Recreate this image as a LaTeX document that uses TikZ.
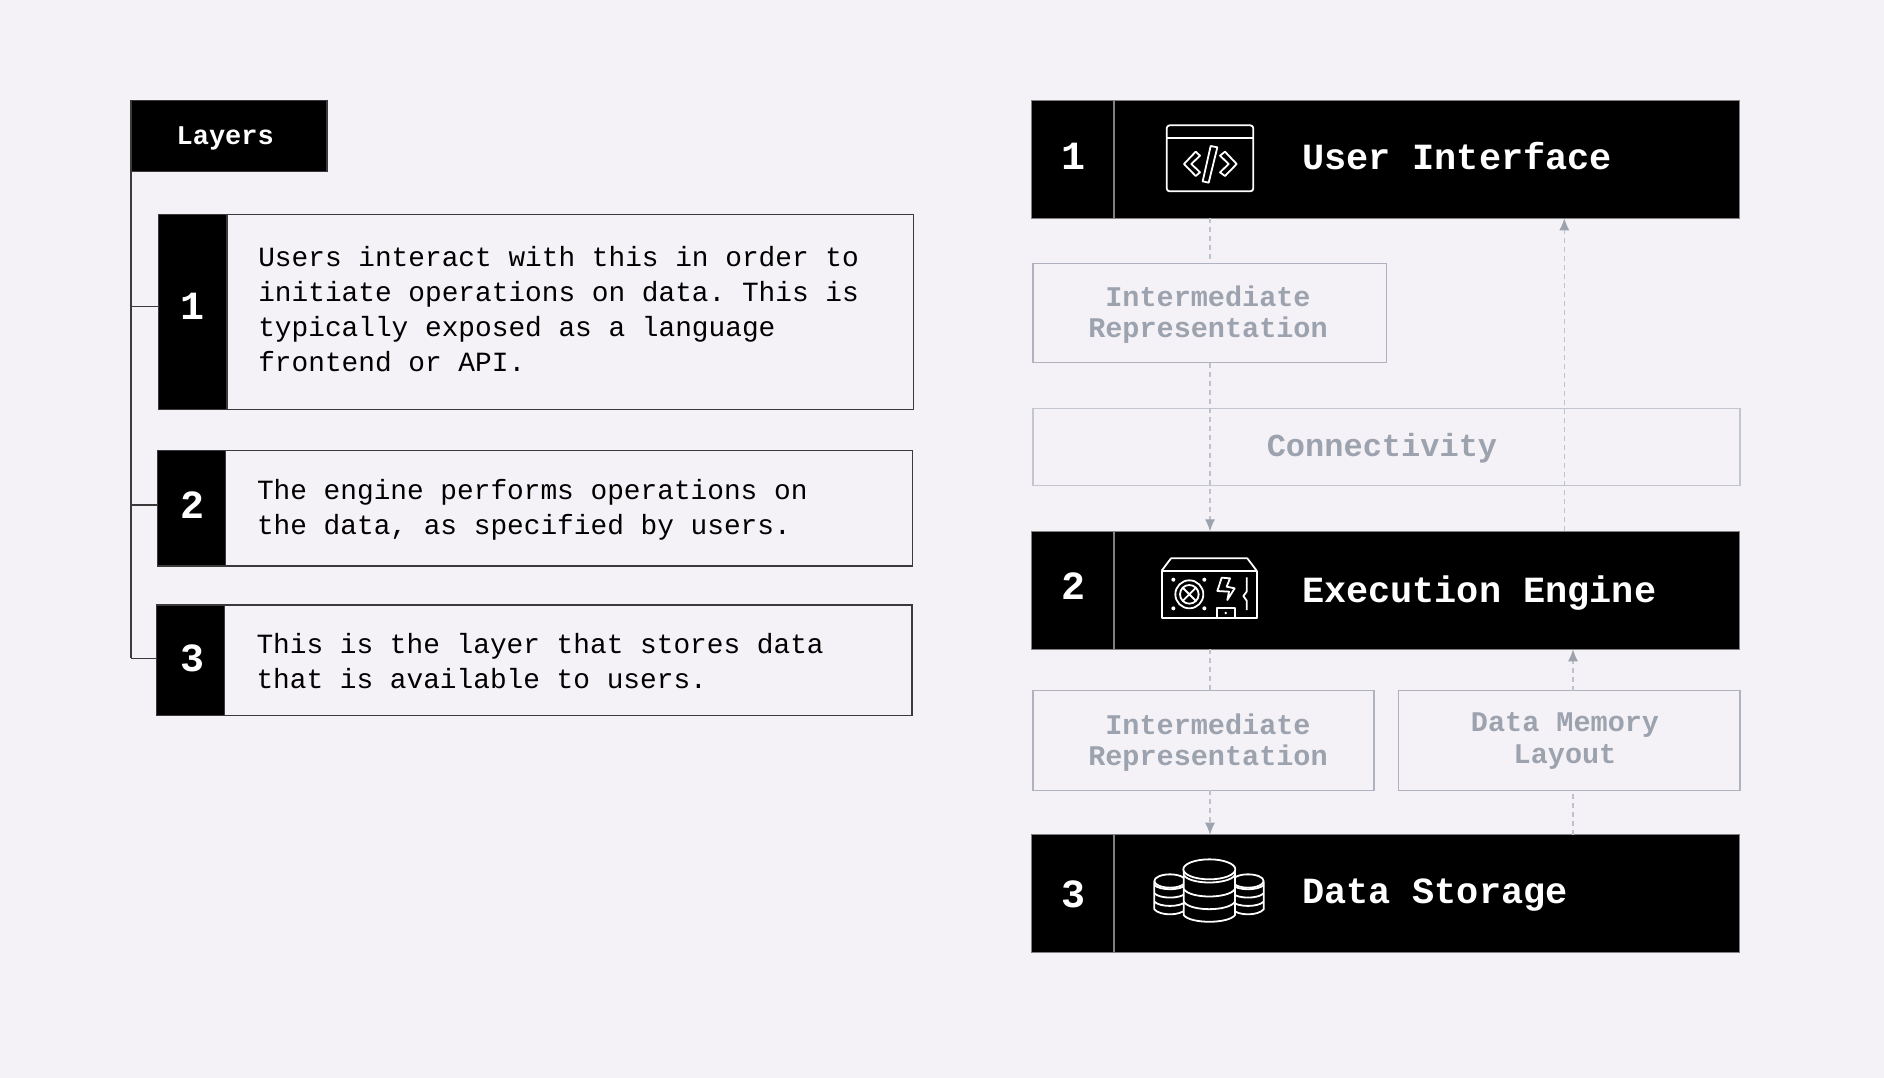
\documentclass[tikz,border=0pt]{standalone}
\usepackage{fontspec}
\setmonofont{Liberation Mono}
\usepackage{tikz}
\usetikzlibrary{arrows.meta}
\definecolor{pagebg}{HTML}{F4F2F6}
\definecolor{fadeline}{HTML}{AEB3BF}
\definecolor{fadetext}{HTML}{9CA3AF}
\definecolor{wirecol}{HTML}{3A3A3A}

\begin{document}
\begin{tikzpicture}
  [x=1pt,y=-1pt,
   every node/.style={inner sep=0pt,outer sep=0pt}]
 \tikzset{panel/.style={draw=wirecol,line width=1.1pt,anchor=north west},
   blackcell/.style={draw=wirecol,line width=1.1pt,fill=black,anchor=north west},
   headbar/.style={draw=gray,line width=1.1pt,fill=black,anchor=north west,minimum width=708pt,minimum height=118pt},
   fadebox/.style={draw=fadeline,line width=1.1pt,anchor=north west},
   numtext/.style={text=white,font=\ttfamily\bfseries\fontsize{40}{40}\selectfont},
   bodytext/.style={anchor=west,align=left,font=\ttfamily\fontsize{27.8}{34.8}\selectfont},
   titletext/.style={text=white,anchor=base west,font=\ttfamily\bfseries\fontsize{36.9}{36.9}\selectfont},
   fadetxt/.style={text=fadetext,align=center,font=\ttfamily\bfseries\fontsize{28.5}{31.2}\selectfont},
   wire/.style={draw=wirecol,line width=1.1pt},
   flow/.style={draw=fadeline!80,line width=1.1pt,dash pattern=on 5pt off 4pt},
   flowtip/.style={flow,-{Latex[length=12pt,width=10pt,color=fadetext]}},
   iconline/.style={draw=white,line width=1.8pt,line join=round}}
 \fill[pagebg] (0,0) rectangle (1884,1078);
 \useasboundingbox (0,0) rectangle (1884,1078);

 % left column
 \node[blackcell,minimum width=196pt,minimum height=70.5pt] (layers) at (131,100.7) {};
 \node[text=white,anchor=base west,font=\ttfamily\bfseries\fontsize{27}{27}\selectfont] (layerstxt) at (176.6,144.3) {Layers};
 \node[panel,minimum width=755pt,minimum height=195pt] (box1) at (158.7,214.7) {};
 \node[panel,minimum width=755pt,minimum height=115.5pt] (box2) at (157.4,450.5) {};
 \node[panel,minimum width=755.5pt,minimum height=110.5pt] (box3) at (156.5,605) {};
 \node[blackcell,minimum width=68.3pt,minimum height=195pt] (cell1) at (158.7,214.7) {};
 \node[blackcell,minimum width=68.3pt,minimum height=115.5pt] (cell2) at (157.4,450.5) {};
 \node[blackcell,minimum width=68.3pt,minimum height=110.5pt] (cell3) at (156.5,605) {};
 \node[numtext] (n1) at (192,306.5) {1};
 \node[numtext] (n2) at (192,505.5) {2};
 \node[numtext] (n3) at (192,658) {3};
 \node[bodytext] (txt1) at (258.3,309.2) {Users interact with this in order to\\initiate operations on data. This is\\typically exposed as a language\\frontend or API.};
 \node[bodytext] (txt2) at (257,509.8) {The engine performs operations on\\the data, as specified by users.};
 \node[bodytext] (txt3) at (256.5,661.2) {This is the layer that stores data\\that is available to users.};
 \coordinate (stub1) at (131,306.4);
 \coordinate (stub2) at (131,505);
 \coordinate (stub3) at (131,658.4);
 \draw[wire] (layers.south west) -- (stub3);
 \foreach \from/\to in {stub1/cell1,stub2/cell2,stub3/cell3}
    \draw[wire] (\from) -- (\from -| \to.west);

 % right column
 \node[headbar] (bar1) at (1031.7,100.3) {};
 \node[headbar] (bar2) at (1031.7,531.3) {};
 \node[headbar] (bar3) at (1031.7,834.7) {};
 \foreach \b in {bar1,bar2,bar3}
    \draw[draw=gray,line width=1.1pt] (\b.north west) ++(82.3,0) -- ++(0,118);
 \node[numtext] (m1) at (1073,156.5) {1};
 \node[numtext] (m2) at (1073,586.5) {2};
 \node[numtext] (m3) at (1073,894.8) {3};
 \node[titletext] (title1) at (1302,169.8) {User Interface};
 \node[titletext] (title2) at (1302,602) {Execution Engine};
 \node[titletext] (title3) at (1302,903.3) {Data Storage};

 \node[fadebox,minimum width=353.7pt,minimum height=99.6pt] (ir1) at (1033,263.3) {};
 \node[fadebox,draw=fadeline!75,minimum width=707pt,minimum height=77pt] (conn) at (1033,408.5) {};
 \node[fadebox,minimum width=341pt,minimum height=99.5pt] (ir2) at (1033,690.8) {};
 \node[fadebox,minimum width=341.7pt,minimum height=99.5pt] (dml) at (1398.3,690.8) {};
 \node[fadetxt] (irtxt1) at (1208,314.8) {Intermediate\\Representation};
 \node[fadetxt,font=\ttfamily\bfseries\fontsize{32}{32}\selectfont] (conntxt) at (1382,448.4) {Connectivity};
 \node[fadetxt] (irtxt2) at (1208,742.4) {Intermediate\\Representation};
 \node[fadetxt] (dmltxt) at (1565,740.9) {Data Memory\\Layout};

 \coordinate (laneA) at (1210,0);
 \coordinate (laneB) at (1564.3,0);
 \coordinate (laneC) at (1573,0);
 \draw[flow] (bar1.south -| laneA) -- (ir1.north -| laneA);
 \draw[flowtip] (ir1.south -| laneA) -- (bar2.north -| laneA);
 \draw[flowtip] (bar2.north -| laneB) -- (bar1.south -| laneB);
 \draw[flow] (bar2.south -| laneA) -- (ir2.north -| laneA);
 \draw[flowtip] (ir2.south -| laneA) -- (bar3.north -| laneA);
 \draw[flow] (bar3.north -| laneC) -- (dml.south -| laneC);
 \draw[flowtip] (dml.north -| laneC) -- (bar2.south -| laneC);

 % window icon
 \begin{scope}[shift={(1030,90)},scale=1/3]
  \draw[iconline,rounded corners=3pt] (410,106) rectangle (670,304);
  \draw[iconline] (410,143) -- (670,143);
  \draw[iconline] (462,222) -- (497,185) -- (510,197) -- (484,222) -- (510,247) -- (497,258) -- cycle;
  \draw[iconline] (620,222) -- (585,185) -- (570,197) -- (596,222) -- (570,247) -- (585,258) -- cycle;
  \draw[iconline] (542,168) -- (562,172) -- (536,278) -- (518,274) -- cycle;
 \end{scope}

 % power supply icon
 \begin{scope}[shift={(1030,520)},scale=1/3]
  \draw[iconline] (395,152) rectangle (680,294);
  \draw[iconline] (395,152) -- (423,115) -- (652,115) -- (680,152);
  \draw[iconline] (478,223) circle[radius=42];
  \draw[iconline] (478,223) circle[radius=28];
  \draw[iconline] (458,203) -- (498,243) (498,203) -- (458,243);
  \foreach \px/\py in {430/179,523/179,430/265,523/265}
    \fill[white] (\px,\py) circle[radius=6];
  \draw[iconline] (575,173) -- (600,175) -- (590,200) -- (614,205) -- (592,240) -- (597,215) -- (562,213) -- cycle;
  \draw[iconline] (650,172) -- (650,215) -- (640,228) -- (650,242) -- (650,270);
  \draw[iconline] (560,294) -- (560,263) -- (614,263) -- (614,294);
  \fill[white] (587,279) circle[radius=4];
 \end{scope}

 % database icon
 \begin{scope}[shift={(1030,780)},scale=1/3]
  \foreach \cx in {420,654} {
    \draw[iconline] (\cx-47,305) -- (\cx-47,388) .. controls (\cx-30,408) and (\cx+30,408) .. (\cx+47,388) -- (\cx+47,305);
    \draw[iconline] (\cx,303) ellipse[x radius=47,y radius=20];
    \foreach \ry in {315,340,365}
      \draw[iconline] (\cx-47,\ry) .. controls (\cx-30,\ry+17) and (\cx+30,\ry+17) .. (\cx+47,\ry);
  }
  \fill[black] (461,268) rectangle (615,405);
  \draw[iconline] (461,268) -- (461,405) .. controls (480,432) and (596,432) .. (615,405) -- (615,268);
  \draw[iconline,fill=black] (538,268) ellipse[x radius=78,y radius=30];
  \foreach \ry in {285,327,365}
    \draw[iconline] (461,\ry) .. controls (480,\ry+30) and (596,\ry+30) .. (615,\ry);
 \end{scope}

\end{tikzpicture}
\end{document}
